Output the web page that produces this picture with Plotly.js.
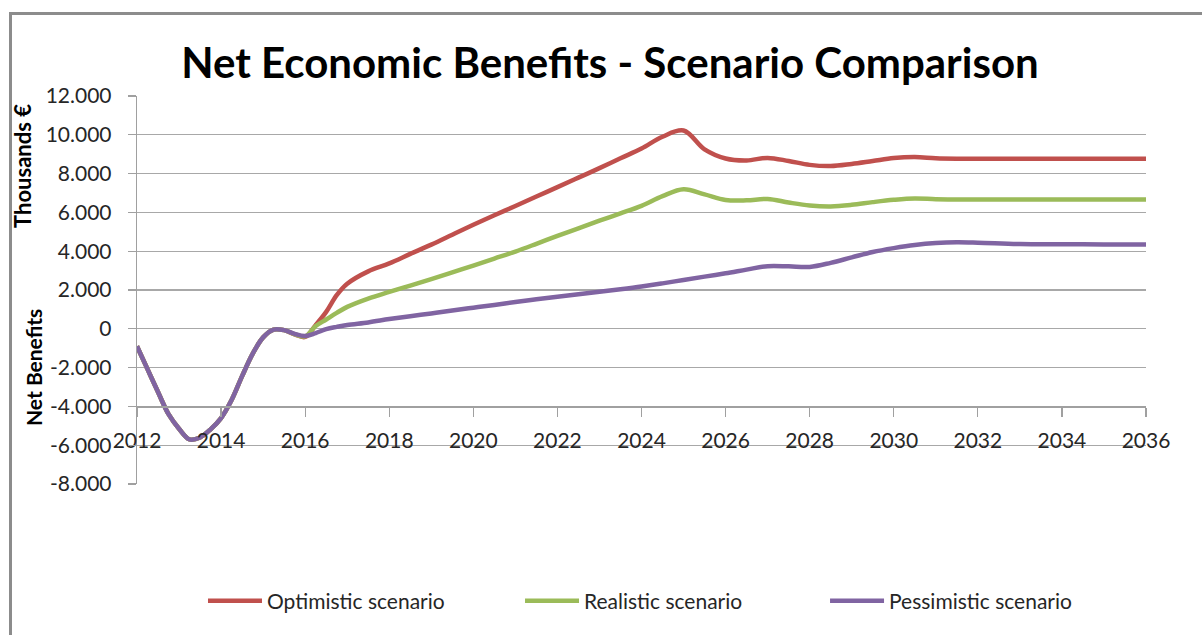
<!DOCTYPE html>
<html>
<head>
<meta charset="utf-8">
<script src="https://cdn.plot.ly/plotly-3.0.1.min.js"></script>
<style>
  html, body { margin: 0; padding: 0; background: #fff; }
  #chart { position: absolute; left: 0; top: 0; width: 1202px; height: 635px; }
  #frame { position: absolute; left: 9px; top: 12px; width: 1200px; height: 640px;
           border-left: 3px solid #8c8c8c; border-top: 3px solid #8c8c8c; pointer-events: none; }
</style>
</head>
<body>
<div id="chart"></div>
<div id="frame"></div>
<script>
const years = [2012, 2012.25, 2012.5, 2012.75, 2013, 2013.25, 2013.5, 2013.75, 2014, 2014.25, 2014.5, 2014.75,
  2015, 2015.25, 2015.5, 2015.75, 2016, 2016.25, 2016.5, 2016.75, 2017,
  2017.5, 2018, 2018.5, 2019, 2019.5, 2020, 2020.5, 2021, 2021.5, 2022, 2022.5, 2023, 2023.5, 2024, 2024.5,
  2025, 2025.5, 2026, 2026.5, 2027, 2027.5, 2028, 2028.5, 2029, 2029.5, 2030, 2030.5, 2031, 2031.5, 2032,
  2033, 2034, 2035, 2036];

const optimistic = [-900, -2080, -3260, -4400, -5150, -5700, -5600, -5180, -4600, -3670, -2440, -1290,
  -440, -40, -70, -290, -420, 190, 870, 1730, 2320,
  2960, 3370, 3860, 4340, 4850, 5360, 5850, 6330, 6820, 7300, 7790, 8280, 8790, 9290, 9900,
  10220, 9250, 8780, 8680, 8810, 8650, 8450, 8390, 8500, 8650, 8800, 8850, 8790, 8770, 8770,
  8770, 8770, 8770, 8770];

const realistic = [-900, -2080, -3260, -4400, -5150, -5700, -5600, -5180, -4600, -3670, -2440, -1290,
  -440, -40, -70, -280, -390, 140, 480, 820, 1130,
  1560, 1900, 2230, 2560, 2910, 3260, 3620, 3980, 4380, 4790, 5180, 5570, 5950, 6340, 6840,
  7190, 6930, 6640, 6620, 6690, 6510, 6360, 6310, 6390, 6530, 6650, 6720, 6680, 6670, 6670,
  6670, 6670, 6670, 6670];

const pessimistic = [-900, -2080, -3260, -4400, -5150, -5700, -5600, -5180, -4600, -3670, -2440, -1290,
  -440, -40, -70, -260, -370, -220, -20, 100, 200,
  330, 500, 650, 790, 940, 1090, 1230, 1380, 1520, 1650, 1780, 1910, 2040, 2180, 2340,
  2520, 2690, 2860, 3050, 3230, 3220, 3190, 3400, 3680, 3960, 4160, 4320, 4420, 4460, 4440,
  4370, 4360, 4350, 4350];

const seriesNames = ["Optimistic scenario", "Realistic scenario", "Pessimistic scenario"];
const seriesColors = ["#C0504D", "#9BBB59", "#8064A2"];

const yTickVals = [-8000, -6000, -4000, -2000, 0, 2000, 4000, 6000, 8000, 10000, 12000];
const yTickText = ["-8.000", "-6.000", "-4.000", "-2.000", "0", "2.000", "4.000", "6.000", "8.000", "10.000", "12.000"];
const xTickVals = [2012, 2014, 2016, 2018, 2020, 2022, 2024, 2026, 2028, 2030, 2032, 2034, 2036];
const xTickText = ["2012", "2014", "2016", "2018", "2020", "2022", "2024", "2026", "2028", "2030", "2032", "2034", "2036"];

const FONT = "Lato, 'Open Sans', sans-serif";
const allSeries = [optimistic, realistic, pessimistic];
const legendIds = ["legend", "legend2", "legend3"];

const traces = allSeries.map((vals, i) => ({
  type: "scatter",
  mode: "lines",
  x: years,
  y: vals,
  name: seriesNames[i],
  legend: legendIds[i],
  line: { color: seriesColors[i], width: 4.5, shape: "spline", smoothing: 1 }
}));

const legendBase = {
  orientation: "h",
  yanchor: "middle",
  xanchor: "left",
  y: -0.3015,
  font: { family: FONT, size: 21, color: "#262626" },
  bgcolor: "rgba(0,0,0,0)",
  itemwidth: 54
};

const layout = {
  width: 1202,
  height: 635,
  margin: { l: 137, r: 56, t: 96, b: 151 },
  paper_bgcolor: "#ffffff",
  plot_bgcolor: "#ffffff",
  showlegend: true,
  title: {
    text: "<b>Net Economic Benefits - Scenario Comparison</b>",
    font: { family: FONT, size: 42, color: "#000000" },
    x: 0.5075, xref: "container", xanchor: "center",
    y: 1 - 63 / 635, yref: "container", yanchor: "middle"
  },
  xaxis: {
    range: [2012, 2036],
    anchor: "free",
    position: 0.2,
    tickmode: "array",
    tickvals: xTickVals,
    ticktext: xTickText,
    showgrid: false,
    zeroline: false,
    showline: true,
    linecolor: "#a0a0a0",
    linewidth: 1.3,
    ticks: "outside",
    ticklen: 9,
    tickcolor: "#a0a0a0",
    tickwidth: 1.3,
    ticklabelstandoff: 6,
    tickfont: { family: FONT, size: 21, color: "#262626" }
  },
  yaxis: {
    range: [-8000, 12000],
    tickmode: "array",
    tickvals: yTickVals,
    ticktext: yTickText,
    showgrid: true,
    gridcolor: "#a8a8a8",
    gridwidth: 1.3,
    zeroline: false,
    showline: true,
    linecolor: "#a0a0a0",
    linewidth: 1.3,
    ticks: "outside",
    ticklen: 8,
    tickcolor: "#a0a0a0",
    tickwidth: 1.3,
    ticklabelstandoff: 12,
    tickfont: { family: FONT, size: 21, color: "#262626" }
  },
  legend: Object.assign({}, legendBase, { x: 0.0654 }),
  legend2: Object.assign({}, legendBase, { x: 0.3796 }),
  legend3: Object.assign({}, legendBase, { x: 0.6819 }),
  annotations: [
    {
      text: "<b>Thousands €</b>", textangle: -90,
      xref: "paper", yref: "paper", x: 0, y: (484 - 166) / 388,
      xanchor: "center", yanchor: "middle", xshift: -115, showarrow: false,
      font: { family: FONT, size: 22, color: "#000000" }
    },
    {
      text: "<b>Net Benefits</b>", textangle: -90,
      xref: "paper", yref: "paper", x: 0, y: (484 - 368) / 388,
      xanchor: "center", yanchor: "middle", xshift: -104, showarrow: false,
      font: { family: FONT, size: 21, color: "#000000" }
    }
  ]
};

Plotly.newPlot("chart", traces, layout, { displayModeBar: false, staticPlot: true });
</script>
</body>
</html>
